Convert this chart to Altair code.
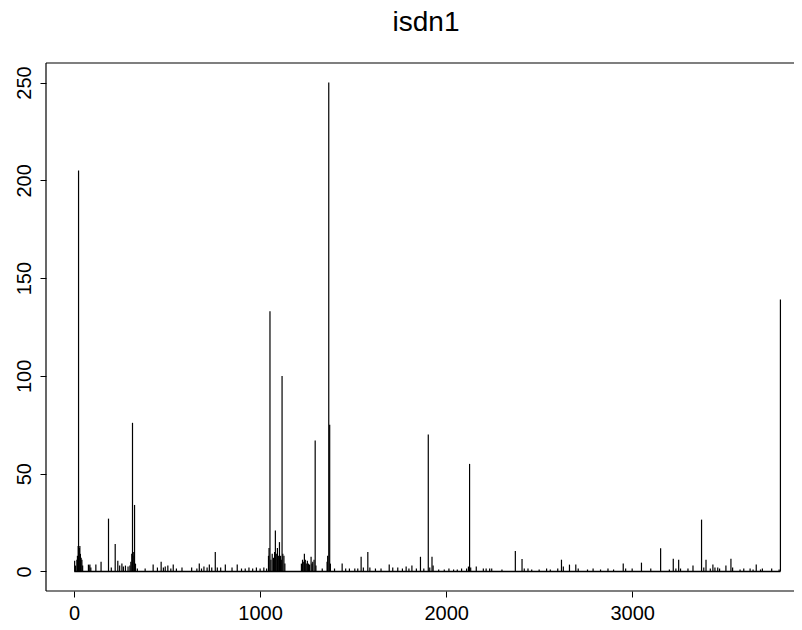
import altair as alt
import pandas as pd

# Time index and value of each observation that rises above the baseline
t_idx = [3, 8, 15, 18, 22, 24, 28, 31, 34, 38, 42, 46,
         77, 80, 85, 90, 117, 145, 185, 200, 221, 235, 245, 257, 265, 276, 290, 300,
         305, 310, 314, 318, 322, 325, 330, 340, 382, 425, 448, 468, 480, 490, 504,
         520, 533, 550, 580, 632, 660, 673, 685, 698, 715, 727, 740, 759, 770, 788,
         813, 849, 877, 900, 920, 940, 960, 980, 1000, 1020, 1035,
         1045, 1048, 1053, 1058, 1065, 1072, 1078, 1082, 1087, 1093, 1098, 1104, 1110,
         1114, 1118, 1122, 1128, 1133,
         1222, 1228, 1232, 1238, 1243, 1248, 1254, 1260, 1266, 1274, 1279, 1283, 1290,
         1296, 1300, 1334, 1360, 1363, 1369, 1374, 1378,
         1400, 1441, 1460, 1480, 1509, 1525, 1543, 1555, 1579, 1590, 1620, 1650, 1694,
         1713, 1740, 1765, 1785, 1800, 1816, 1840, 1862, 1880, 1904, 1912, 1924, 1930,
         1960, 1990, 2015, 2040, 2060, 2083, 2110, 2120, 2126, 2132, 2162, 2200, 2215,
         2234, 2245, 2300, 2372, 2408, 2420, 2440, 2460, 2500, 2540, 2560, 2600, 2620,
         2630, 2663, 2697, 2710, 2760, 2790, 2830, 2870, 2900, 2952, 2965, 3000, 3050,
         3100, 3153, 3200, 3221, 3235, 3250, 3260, 3300, 3327, 3373, 3385, 3397, 3420,
         3434, 3445, 3460, 3470, 3504, 3531, 3540, 3580, 3600, 3634, 3650, 3667, 3690,
         3700, 3750, 3790, 3797]
values = [5.5, 3, 6, 8, 13, 205, 12, 13, 9, 7, 6, 3,
          3.5, 3, 3.5, 2, 3.5, 5, 27, 2, 14, 5.5, 3, 4, 2.5, 3, 2.5, 3,
          5, 9, 76, 10, 8, 34, 4, 1.5, 1.5, 3.5, 2, 5, 2, 2.5, 3,
          1.5, 3.5, 1.5, 2, 2, 1.5, 4, 1.5, 2.5, 2, 3.5, 2, 10, 2, 2,
          3.5, 2, 3.5, 1.5, 1.5, 2, 1.5, 2, 1.5, 2, 1.5,
          8, 12, 133, 6, 9, 7, 10, 21, 9, 12, 8, 15, 8,
          6, 100, 9, 8, 4,
          4, 6, 5, 9, 6, 4, 5.5, 4, 3.5, 7.5, 4, 5, 6,
          67, 3, 1.5, 5, 8, 250, 75, 4,
          1.5, 4, 1.5, 1.5, 1.5, 1.5, 7.5, 2, 10, 2, 1.5, 1.5, 3.5,
          2, 2, 1.5, 2.5, 1.5, 3, 1.5, 7.5, 1.5, 70, 2, 7.5, 3,
          1, 1, 1.5, 1, 1, 1.5, 1.5, 2.5, 55, 2, 2.5, 1.5, 1.5,
          1.5, 1.5, 1, 10.5, 6.3, 1.5, 1.5, 1, 1, 1.5, 1, 1.5, 6,
          2.5, 3.5, 3.5, 1.5, 1, 1.5, 1, 1.5, 1, 4, 1.5, 1.5, 4.5,
          1.5, 11.8, 1, 6.5, 1.5, 6, 1.5, 1.5, 3, 26.5, 2, 6, 1.5,
          3.5, 2, 2, 1.5, 3, 6.5, 2, 1, 1.5, 1.5, 1, 3.5, 1,
          1.5, 1.5, 1, 139]

series_start, series_end = 1, 3797
x_ticks = [0, 1000, 2000, 3000]
y_ticks = [0, 50, 100, 150, 200, 250]
title_text = "isdn1"

x_lo, x_hi = -151, 3870
y_lo, y_hi = -10, 260

spikes = pd.DataFrame({"t": t_idx, "v": values, "base": [0] * len(t_idx)})
baseline = pd.DataFrame({"t": [series_start], "t2": [series_end], "v": [0]})
# plot frame (left, top and bottom sides; the right side lies beyond the picture)
frame_h = pd.DataFrame({"x": [x_lo, x_lo], "x2": [x_hi, x_hi], "y": [y_lo, y_hi]})
frame_v = pd.DataFrame({"x": [x_lo], "y": [y_lo], "y2": [y_hi]})
title_df = pd.DataFrame({"label": [title_text]})

FONT = "Liberation Sans"
xscale = alt.Scale(domain=[x_lo, x_hi], nice=False, zero=False)
yscale = alt.Scale(domain=[y_lo, y_hi], nice=False, zero=False)

xaxis = alt.Axis(values=x_ticks, title=None, grid=False, domain=False,
                 tickSize=6, tickColor="black", tickWidth=1,
                 labelFont=FONT, labelFontSize=20, labelColor="black",
                 labelBaseline="alphabetic", labelPadding=22, labelFlush=False,
                 format="d")
yaxis = alt.Axis(values=y_ticks, title=None, grid=False, domain=False,
                 tickSize=6, tickColor="black", tickWidth=1,
                 labelFont=FONT, labelFontSize=20, labelColor="black",
                 labelAngle=270, labelAlign="center", labelBaseline="alphabetic",
                 labelPadding=10, format="d")

base_line = alt.Chart(baseline).mark_rule(color="black", strokeWidth=1.6).encode(
    x=alt.X("t:Q", scale=xscale, axis=xaxis),
    x2="t2:Q",
    y=alt.Y("v:Q", scale=yscale, axis=yaxis),
)

spike_rules = alt.Chart(spikes).mark_rule(color="black", strokeWidth=1.2).encode(
    x=alt.X("t:Q", scale=xscale, axis=xaxis),
    y=alt.Y("base:Q", scale=yscale, axis=yaxis),
    y2="v:Q",
)

frame_lines_h = alt.Chart(frame_h).mark_rule(color="black", strokeWidth=1.2).encode(
    x=alt.X("x:Q", scale=xscale, axis=xaxis), x2="x2:Q",
    y=alt.Y("y:Q", scale=yscale, axis=yaxis),
)
frame_lines_v = alt.Chart(frame_v).mark_rule(color="black", strokeWidth=1.2).encode(
    x=alt.X("x:Q", scale=xscale, axis=xaxis),
    y=alt.Y("y:Q", scale=yscale, axis=yaxis), y2="y2:Q",
)

title_mark = alt.Chart(title_df).mark_text(
    font=FONT, fontSize=28, color="black", align="center", baseline="alphabetic"
).encode(text="label:N", x=alt.value(380), y=alt.value(-32))

chart = alt.layer(
    base_line, spike_rules, frame_lines_h, frame_lines_v, title_mark
).properties(
    width=748,
    height=528,
    autosize=alt.AutoSizeParams(type="none"),
    padding={"left": 38, "top": 55, "right": 0, "bottom": 31},
).configure_view(stroke=None)

chart.save("out.html", embed_options={"renderer": "svg", "actions": False})
